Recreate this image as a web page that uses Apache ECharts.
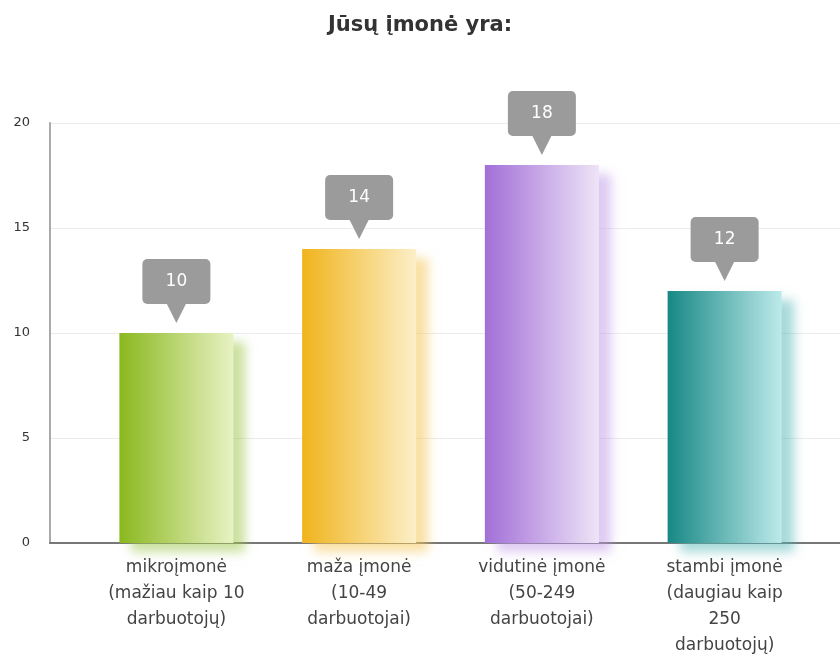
<!DOCTYPE html>
<html>
<head>
<meta charset="utf-8">
<script src="https://cdn.jsdelivr.net/npm/echarts@6/dist/echarts.min.js"></script>
<style>
  html, body { margin: 0; padding: 0; background: #fff; }
  #chart { width: 840px; height: 663px; }
</style>
</head>
<body>
<div id="chart"></div>
<script>
// data
const categories = [
  "mikroįmonė\n(mažiau kaip 10\ndarbuotojų)",
  "maža įmonė\n(10-49\ndarbuotojai)",
  "vidutinė įmonė\n(50-249\ndarbuotojai)",
  "stambi įmonė\n(daugiau kaip\n250\ndarbuotojų)"
];
const counts = [10, 14, 18, 12];
const yTicks = [0, 5, 10, 15, 20];

// bar colours: [left, right, shadow]
const palette = [
  ["#8ab81e", "#e8f2c4", "rgba(160,200,80,0.55)"],
  ["#f0b41c", "#fcefc8", "rgba(245,200,90,0.55)"],
  ["#a26fd8", "#eee4f6", "rgba(190,150,230,0.5)"],
  ["#178885", "#bdeaea", "rgba(80,180,180,0.5)"]
];

const chart = echarts.init(document.getElementById("chart"));
const font = "DejaVu Sans, Verdana, sans-serif";

const barData = counts.map((v, i) => ({
  value: v,
  itemStyle: {
    color: new echarts.graphic.LinearGradient(0, 0, 1, 0, [
      { offset: 0, color: palette[i][0] },
      { offset: 1, color: palette[i][1] }
    ]),
    shadowColor: palette[i][2],
    shadowBlur: 10,
    shadowOffsetX: 12,
    shadowOffsetY: 9
  }
}));

const option = {
  animation: false,
  title: {
    text: "Jūsų įmonė yra:",
    left: "center",
    top: 10,
    textStyle: { fontFamily: font, fontSize: 21, fontWeight: "bold", color: "#333" }
  },
  grid: [
    { left: 50, right: 0, top: 123, bottom: 120 },
    { left: 85, right: 24, top: 123, bottom: 120 }
  ],
  xAxis: [
    {
      type: "value", gridIndex: 0, min: 0, max: 1,
      axisLine: { show: true, lineStyle: { color: "#777", width: 2 } },
      axisTick: { show: false }, axisLabel: { show: false }, splitLine: { show: false }
    },
    {
      type: "category", gridIndex: 1, data: categories,
      axisLine: { show: false }, axisTick: { show: false },
      axisLabel: {
        interval: 0, margin: 12, color: "#444", fontFamily: font,
        fontSize: 17, lineHeight: 26, align: "center"
      }
    }
  ],
  yAxis: [
    {
      type: "value", gridIndex: 0, min: yTicks[0], max: yTicks[yTicks.length - 1], interval: 5,
      axisLine: { show: true, lineStyle: { color: "#aaa", width: 2 } },
      axisTick: { show: false },
      axisLabel: { margin: 20, color: "#333", fontFamily: font, fontSize: 13 },
      splitLine: { lineStyle: { color: "#ebebeb" } }
    },
    {
      type: "value", gridIndex: 1, min: yTicks[0], max: yTicks[yTicks.length - 1],
      show: false, splitLine: { show: false }
    }
  ],
  series: [
    {
      type: "bar", xAxisIndex: 1, yAxisIndex: 1,
      data: barData, barWidth: 114,
      label: {
        show: true, position: "top", distance: 29,
        color: "#fff", fontFamily: font, fontSize: 17,
        backgroundColor: "#9b9b9b", borderRadius: 5,
        width: 68, height: 45, lineHeight: 45, align: "center", padding: 0
      }
    },
    {
      // callout pointers
      type: "scatter", xAxisIndex: 1, yAxisIndex: 1,
      data: counts, silent: true,
      symbol: "path://M0,0 L10,0 L5,10 Z", symbolKeepAspect: false,
      symbolSize: [20, 20], symbolOffset: [0, -20],
      itemStyle: { color: "#9b9b9b", opacity: 1 }, z: 5
    }
  ]
};

chart.setOption(option);
</script>
</body>
</html>
